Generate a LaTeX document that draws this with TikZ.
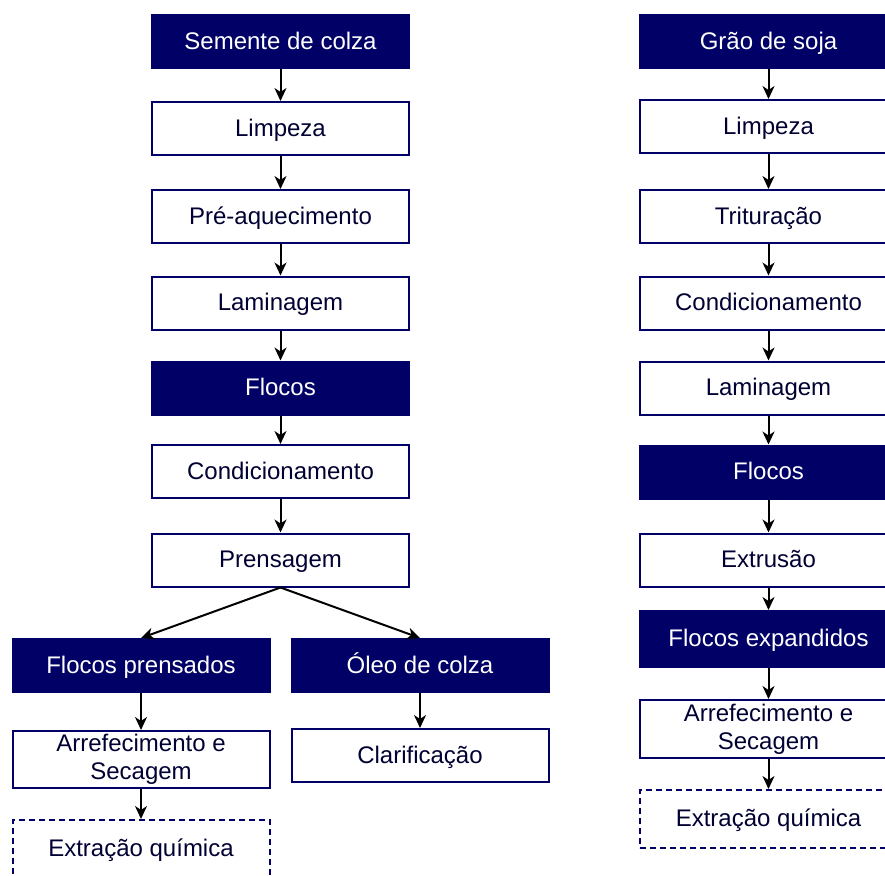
\documentclass[tikz,border=0pt]{standalone}
\usepackage{fontspec}
\setmainfont{Liberation Sans}
\usetikzlibrary{arrows.meta}
\definecolor{navy}{HTML}{000066}
\definecolor{ink}{HTML}{000033}
\tikzset{
  base/.style={draw=navy, line width=2pt, minimum width=257pt, inner sep=0pt,
    font=\fontsize{24}{28}\selectfont, align=center, text height=18.5pt, text depth=3.5pt},
  twoline/.style={text height=, text depth=},
  white/.style={base, fill=white, text=ink, minimum height=53pt},
  dark/.style={base, fill=navy, text=white, minimum height=53pt},
  dashbox/.style={base, fill=white, text=ink, dash pattern=on 6pt off 4pt, minimum height=58pt},
  arr/.style={draw=black, line width=2pt, -{Stealth[length=13pt,width=12pt,inset=4pt]}}
}
\begin{document}
\begin{tikzpicture}[x=1pt,y=-1pt]
\useasboundingbox (0,0) rectangle (885,875);
\clip (0,0) rectangle (885,875);
% left column
\node[dark]  (l1) at (280.5,41.5) {Semente de colza};
\node[white] (l2) at (280.5,128.5) {Limpeza};
\node[white] (l3) at (280.5,216.5) {Pré-aquecimento};
\node[white] (l4) at (280.5,303) {Laminagem};
\node[dark]  (l5) at (280.5,388) {Flocos};
\node[white] (l6) at (280.5,471.5) {Condicionamento};
\node[white] (l7) at (280.5,560) {Prensagem};
\node[dark]  (l8) at (141,665.5) {Flocos prensados};
\node[dark]  (l9) at (420,665.5) {Óleo de colza};
\node[white, twoline, minimum height=57pt] (l10) at (141,759.5) {Arrefecimento e\\Secagem};
\node[white] (l11) at (420,755.5) {Clarificação};
\node[dashbox] (l12) at (141,849) {Extração química};
% right column
\node[dark]  (r1) at (768.5,41.5) {Grão de soja};
\node[white] (r2) at (768.5,126.5) {Limpeza};
\node[white] (r3) at (768.5,216.5) {Trituração};
\node[white] (r4) at (768.5,303) {Condicionamento};
\node[white] (r5) at (768.5,388) {Laminagem};
\node[dark]  (r6) at (768.5,472) {Flocos};
\node[white] (r7) at (768.5,560) {Extrusão};
\node[dark, minimum height=56pt] (r8) at (768.5,639) {Flocos expandidos};
\node[white, twoline, minimum height=58pt] (r9) at (768.5,729) {Arrefecimento e\\Secagem};
\node[dashbox] (r10) at (768.5,819) {Extração química};
% connectors
\draw[arr] (l1) -- (l2);
\draw[arr] (l2) -- (l3);
\draw[arr] (l3) -- (l4);
\draw[arr] (l4) -- (l5);
\draw[arr] (l5) -- (l6);
\draw[arr] (l6) -- (l7);
\draw[arr] (l7.south) -- (l8.north);
\draw[arr] (l7.south) -- (l9.north);
\draw[arr] (l8) -- (l10);
\draw[arr] (l9) -- (l11);
\draw[arr] (l10) -- (l12);
\draw[arr] (r1) -- (r2);
\draw[arr] (r2) -- (r3);
\draw[arr] (r3) -- (r4);
\draw[arr] (r4) -- (r5);
\draw[arr] (r5) -- (r6);
\draw[arr] (r6) -- (r7);
\draw[arr] (r7) -- (r8);
\draw[arr] (r8) -- (r9);
\draw[arr] (r9) -- (r10);
\end{tikzpicture}
\end{document}
